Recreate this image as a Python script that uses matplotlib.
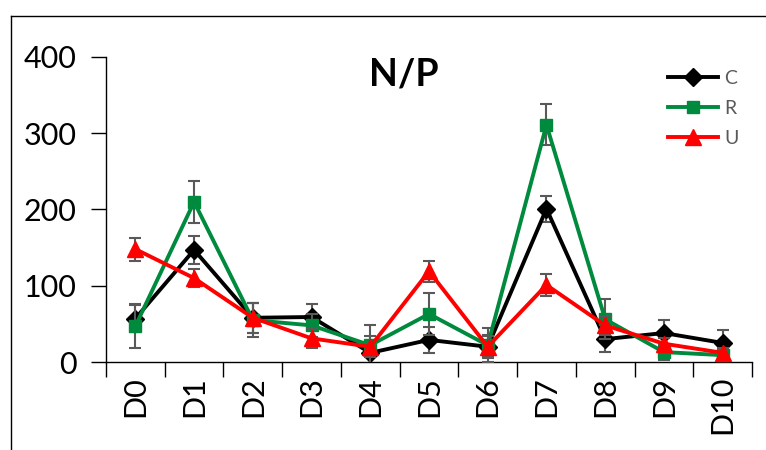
import numpy as np
import matplotlib.pyplot as plt
from matplotlib.lines import Line2D

plt.rcParams['font.family'] = ['Lato', 'DejaVu Sans']

days = ['D0', 'D1', 'D2', 'D3', 'D4', 'D5', 'D6', 'D7', 'D8', 'D9', 'D10']

c_vals = [57, 147, 58, 59, 12, 29, 20, 201, 30, 38, 25]
c_err = [18, 18, 20, 17, 15, 17, 15, 17, 17, 17, 17]
r_vals = [47, 210, 55, 48, 22, 63, 22, 311, 56, 13, 9]
r_err = [29, 28, 22, 15, 26, 27, 22, 27, 26, 10, 8]
u_vals = [148, 110, 58, 31, 20, 119, 20, 101, 48, 24, 12]
u_err = [15, 12, 20, 13, 14, 14, 14, 14, 12, 8, 6]

fig = plt.figure(figsize=(7.66, 4.5), dpi=100)
ax = fig.add_axes([106 / 766, 1 - 362 / 450, (752 - 106) / 766, (362 - 57) / 450])

x = np.arange(len(days))
series = [
    ('C', c_vals, c_err, 'black', 'D', 9),
    ('R', r_vals, r_err, '#008A3E', 's', 9),
    ('U', u_vals, u_err, '#FF0000', '^', 11),
]
handles = []
for i, (name, vals, err, col, mk, ms) in enumerate(series):
    ax.errorbar(x, vals, yerr=err, color=col, marker=mk, markersize=ms,
                linewidth=2.8, ecolor='#595959', elinewidth=1.5, capsize=4.5,
                capthick=1.5, zorder=3 + i)
    handles.append(Line2D([], [], color=col, marker=mk, markersize=ms,
                          linewidth=2.8, label=name))

ax.set_xlim(-0.5, len(days) - 0.5)
ax.set_ylim(0, 400)
ax.set_yticks([0, 100, 200, 300, 400])
ax.set_xticks(np.arange(len(days) + 1) - 0.5, minor=False)
ax.set_xticklabels([])
ax.set_xticks(x, minor=True)
ax.set_xticklabels(days, minor=True, rotation=90, fontsize=22)
ax.tick_params(axis='x', which='minor', length=0, pad=10)
ax.tick_params(axis='x', which='major', length=11, width=1, direction='out', color='black')
ax.tick_params(axis='y', length=11, width=1, labelsize=22, pad=10)

for s in ['top', 'right']:
    ax.spines[s].set_visible(False)
for s in ['left', 'bottom']:
    ax.spines[s].set_color('black')
    ax.spines[s].set_linewidth(1)

fig.text(404 / 766, 1 - 74 / 450, 'N/P', fontsize=27, fontweight='bold',
         ha='center', va='center')

leg = fig.legend(handles=handles, loc='upper left',
                 bbox_to_anchor=(660 / 766, 1 - 62 / 450), frameon=False,
                 fontsize=14, handlelength=2.6, labelspacing=0.68, handletextpad=0.3,
                 borderaxespad=0)
for t in leg.get_texts():
    t.set_color('#595959')

# outer chart frame
fig.add_artist(Line2D([11 / 766, 11 / 766], [0, 1 - 16 / 450], color='black', lw=1,
                      transform=fig.transFigure))
fig.add_artist(Line2D([11 / 766, 1], [1 - 16 / 450, 1 - 16 / 450], color='black', lw=1,
                      transform=fig.transFigure))

fig.savefig('out.png', dpi=100)
